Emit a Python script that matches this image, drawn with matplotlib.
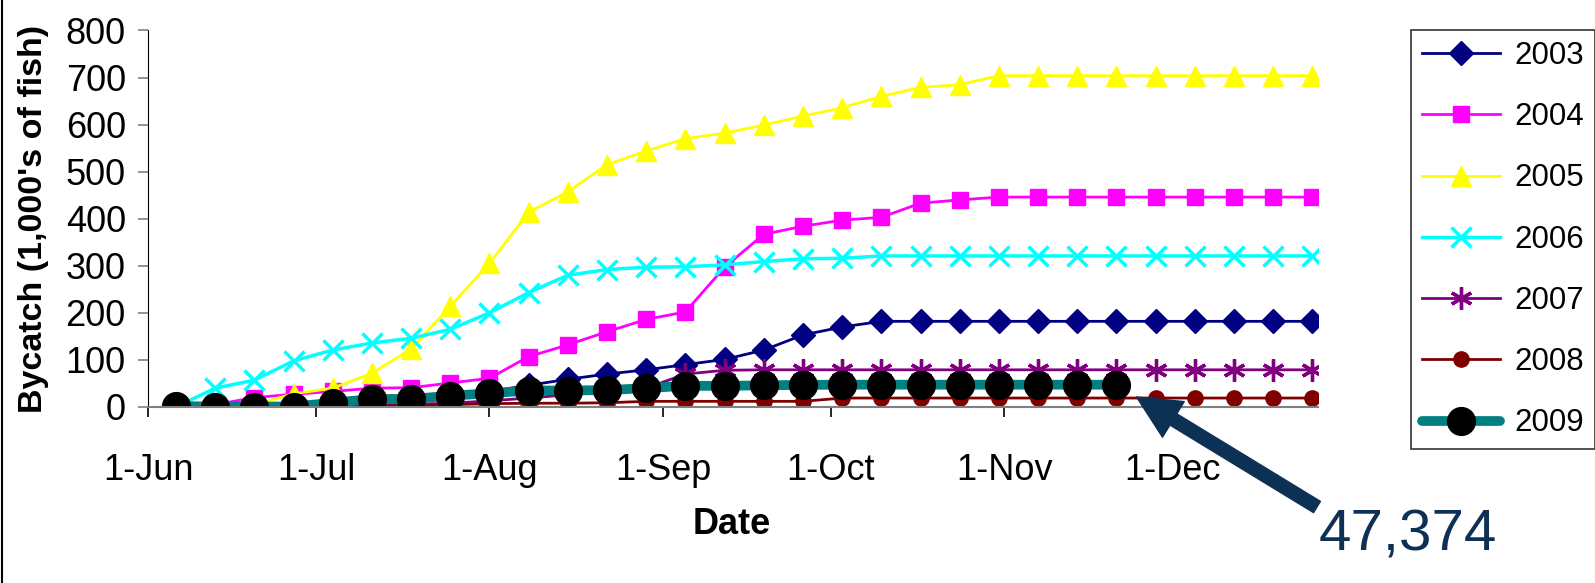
import pandas as pd
import matplotlib
matplotlib.use('Agg')
from matplotlib import pyplot as plt
from matplotlib.lines import Line2D

plt.rcParams['font.family'] = ['Liberation Sans', 'DejaVu Sans']

# weekly cumulative bycatch, 1,000's of fish
dates = pd.date_range('2009-06-06', periods=30, freq='7D')

y2003 = [0, 0, 1, 3, 6, 11, 17, 24, 33, 46, 59, 70, 79, 90, 101, 121, 153, 170,
         182, 182, 182, 182, 182, 182, 182, 182, 182, 182, 182, 182]
y2004 = [0, 5, 20, 27, 33, 40, 41, 51, 61, 107, 132, 160, 186, 202, 297, 367, 384, 397,
         403, 433, 440, 446, 446, 446, 446, 446, 446, 446, 446, 446]
y2005 = [0, 0, 5, 28, 40, 72, 123, 214, 305, 414, 457, 515, 544, 570, 582, 599, 618, 636,
         660, 679, 685, 704, 704, 704, 704, 704, 704, 704, 704, 704]
y2006 = [0, 40, 57, 98, 121, 136, 146, 165, 200, 243, 280, 292, 297, 298, 302, 309, 315, 316,
         321, 321, 321, 321, 321, 321, 321, 321, 321, 321, 321, 321]
y2007 = [0, 0, 0, 0, 2, 4, 6, 8, 13, 19, 26, 33, 40, 70, 78, 79, 79, 79,
         79, 79, 79, 79, 79, 79, 79, 79, 79, 79, 79, 79]
y2008 = [0, 0, 0, 0, 1, 2, 3, 5, 7, 8, 8, 9, 12, 12, 12, 12, 12, 19,
         19, 19, 19, 19, 19, 19, 19, 19, 19, 19, 19, 19]
y2009 = [2, 1, 1, 1, 9, 17, 17, 24, 29, 35, 35, 36, 40, 45, 45, 46, 47, 47.4,
         47.4, 47.4, 47.4, 47.4, 47.4, 47.4, 47.374]
n2009 = len(y2009)

month_ticks = pd.to_datetime(['2009-06-01', '2009-07-01', '2009-08-01', '2009-09-01',
                              '2009-10-01', '2009-11-01', '2009-12-01'])
month_labels = ['1-Jun', '1-Jul', '1-Aug', '1-Sep', '1-Oct', '1-Nov', '1-Dec']
years = ['2003', '2004', '2005', '2006', '2007', '2008', '2009']

fig = plt.figure(figsize=(15.95, 5.83), dpi=100)
ax = fig.add_axes([0.0928, 0.3019, 0.7335, 0.6458])

ax.plot(dates, y2003, color='#000080', lw=2, marker='D', ms=12, label=years[0])
ax.plot(dates, y2004, color='#FF00FF', lw=2, marker='s', ms=12, label=years[1])
ax.plot(dates, y2005, color='#FFFF00', lw=2, marker='^', ms=15, label=years[2])
ax.plot(dates, y2006, color='#00FFFF', lw=2.5, marker='x', ms=14, mew=2.5, label=years[3])
ax.plot(dates, y2007, color='#800080', lw=2, marker=(6, 2, 0), ms=16, mew=2.4, label=years[4])
ax.plot(dates, y2008, color='#800000', lw=2, marker='o', ms=11, label=years[5])
ax.plot(dates[:n2009], y2009, color='#008080', lw=7, solid_capstyle='round',
        marker='o', ms=20, mfc='black', mec='black', label=years[6])

ax.set_ylim(0, 800)
ax.set_yticks(range(0, 801, 100))
ax.set_xlim(pd.Timestamp('2009-06-01'), pd.Timestamp('2009-12-27'))
ax.set_xticks(month_ticks)
ax.set_xticklabels(month_labels)

for s in ['top', 'right']:
    ax.spines[s].set_visible(False)
ax.spines['left'].set_color('black')
ax.spines['bottom'].set_color('#808080')
ax.spines['bottom'].set_linewidth(1.5)
ax.tick_params(axis='y', direction='out', length=7, width=1.2, color='#808080',
               labelsize=26, pad=9)
ax.tick_params(axis='x', direction='out', length=7, width=1.2, color='black',
               labelsize=26, pad=26)

ax.set_ylabel("Bycatch (1,000's of fish)", fontsize=24.5, fontweight='bold')
ax.yaxis.set_label_coords(-0.085, 0.5)
ax.set_xlabel('Date', fontsize=26, fontweight='bold')
ax.xaxis.set_label_coords(0.499, -0.265)

leg = ax.legend(loc='upper left', bbox_to_anchor=(1411 / 1595, 1 - 30 / 583),
                bbox_transform=fig.transFigure, fontsize=22.5, frameon=True,
                fancybox=False, edgecolor='black', handlelength=2.5,
                handletextpad=0.45, labelspacing=1.0, borderpad=0.35,
                borderaxespad=0)
leg.get_frame().set_linewidth(1.2)

# arrow pointing at end of 2009 season
navy = '#0D3055'
ax.annotate('', xy=(dates[n2009 - 1], y2009[-1]), xycoords='data',
            xytext=(1317 / 1595, 1 - 507 / 583), textcoords='figure fraction',
            arrowprops=dict(arrowstyle='simple,head_length=3.1,head_width=3.0,tail_width=0.95',
                            color=navy, shrinkA=0, shrinkB=17, mutation_scale=10))
fig.text(1408 / 1595, 1 - 535 / 583, '47,374', fontsize=42, color=navy,
         ha='center', va='center')

# chart-area border on the left edge
fig.add_artist(Line2D([0.001, 0.001], [0, 1], color='black', lw=1.5,
                      transform=fig.transFigure))

fig.savefig('out.png', dpi=100)
